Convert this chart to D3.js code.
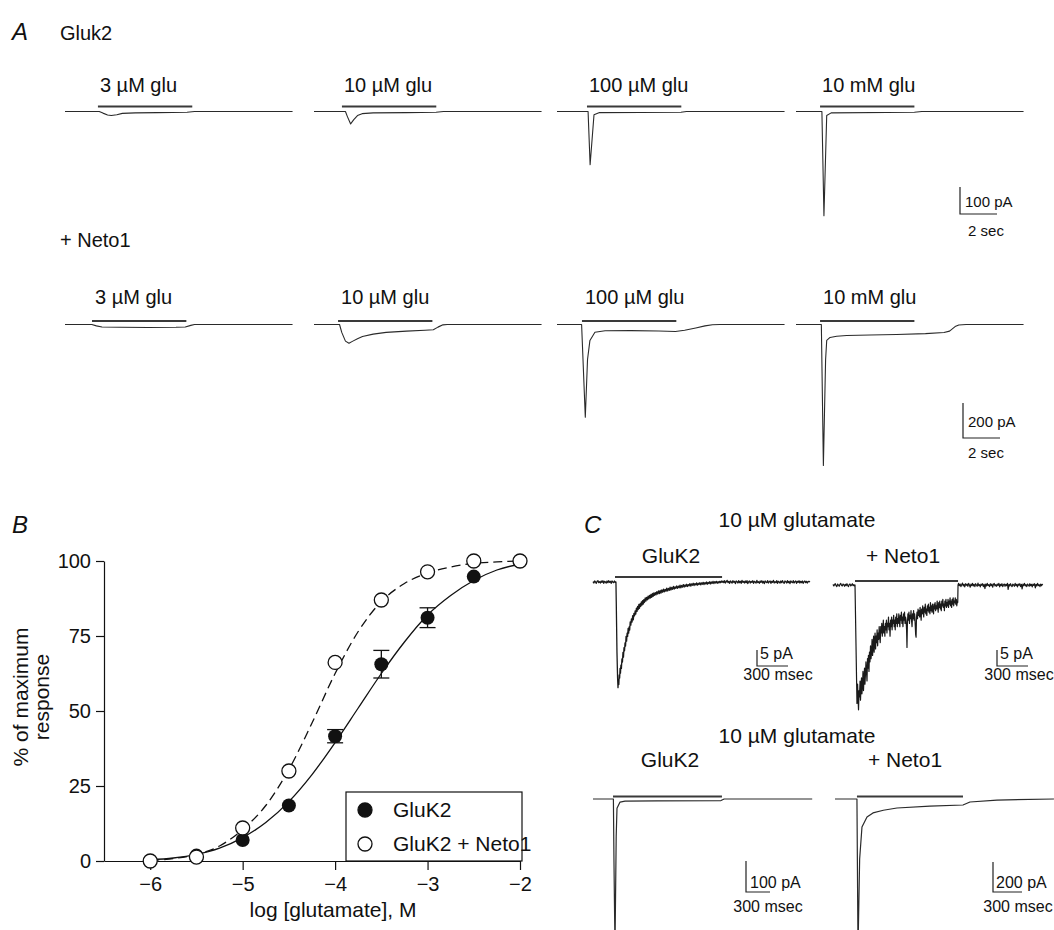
<!DOCTYPE html>
<html>
<head>
<meta charset="utf-8">
<script src="https://cdn.jsdelivr.net/npm/d3@7"></script>
<style>
  body { margin: 0; background: #fff; }
  svg { display: block; }
  text { font-family: "Liberation Sans", Arial, Helvetica, sans-serif; fill: #111; }
</style>
</head>
<body>
<div id="figure"></div>
<script>
// ---- panel A: glutamate concentration series (time in s, current in pA) ----
const concLabels = ["3 \u00b5M glu", "10 \u00b5M glu", "100 \u00b5M glu", "10 mM glu"]
const barStartGluk2 = [1.78, 1.51, 1.62, 1.30]
const barStartNeto1 = [1.46, 1.30, 1.35, 1.30]
const barDuration = 5.1

const gluk2Traces = [
  [[0,0],[1.85,0],[2.05,-6],[2.3,-13],[2.5,-15],[2.8,-12],[3.1,-7],[3.8,-5],[5,-4],[6.6,-3],[7,0],[12.3,0]],
  [[0,0],[1.7,0],[1.8,-18],[1.98,-46],[2.15,-30],[2.35,-15],[2.6,-8],[3.2,-5],[5,-4],[6.6,-3],[7,0],[12.3,0]],
  [[0,0],[1.68,0],[1.79,-197],[2.0,-12],[2.3,-4],[6.7,-3],[7,0],[12.3,0]],
  [[0,0],[1.4,0],[1.51,-386],[1.66,-15],[1.9,-5],[6.4,-3],[6.8,0],[12.3,0]]
]
const neto1Traces = [
  [[0,0],[1.45,0],[1.7,-8],[2.0,-14],[3,-16],[4.5,-17],[6.0,-16],[6.5,-14],[6.8,-5],[7.0,0],[12.3,0]],
  [[0,0],[1.38,0],[1.5,-45],[1.7,-95],[1.89,-107],[2.1,-95],[2.35,-82],[2.62,-69],[3.2,-55],[3.9,-45],[5,-38],[6.0,-33],[6.45,-30],[6.7,-15],[6.97,-2],[7.2,0],[12.3,0]],
  [[0,0],[1.33,0],[1.53,-530],[1.65,-200],[1.78,-91],[2.05,-44],[2.6,-36],[4,-35],[5.5,-37],[6.4,-40],[6.9,-33],[7.5,-20],[8.0,-8],[8.4,-1],[8.8,0],[12.3,0]],
  [[0,0],[1.37,0],[1.48,-805],[1.6,-200],[1.66,-91],[1.84,-74],[2.2,-67],[2.74,-63],[4,-60],[5.44,-57],[7,-52],[8.0,-46],[8.3,-38],[8.6,-12],[8.8,-3],[9.2,0],[12.3,0]]
]

// ---- panel B: concentration-response ----
const logConc = [-6, -5.5, -5, -4.5, -4, -3.5, -3, -2.5, -2]
const gluk2Resp = [0, 1.8, 7, 18.5, 41.6, 65.6, 81.1, 94.8, 100]
const gluk2Sem = [0, 0, 0, 0, 2.2, 4.6, 3.3, 0, 0]
const neto1Resp = [0, 1.3, 11, 30, 66.2, 87, 96.4, 100, 100]
const fitLog = [-6, -5.75, -5.5, -5.25, -5, -4.75, -4.5, -4.25, -4, -3.75, -3.5, -3.25, -3, -2.75, -2.5, -2.25, -2]
const gluk2Fit = [0.4, 1, 2.2, 4.3, 7.8, 12.8, 19.8, 28.8, 39.5, 51, 62.5, 73, 82, 88.5, 93.5, 97, 99]
const neto1Fit = [0.2, 0.8, 2.2, 5, 10.5, 18.5, 30.5, 46, 62.5, 76.5, 86.5, 92.5, 96, 98, 99.2, 99.7, 100]
const xTicks = [-6, -5, -4, -3, -2]
const yTicks = [0, 25, 50, 75, 100]

// ---- panel C: 10 uM glutamate, expanded (time in ms, current in pA) ----
const cTopGluk2 = [[0,0.1],[8,-0.3],[16,0.3],[24,0],[32,-0.4],[40,0.2],[48,0.4],[56,-0.2],[64,0.1],[72,-0.3],[80,0.3],[88,-0.1],
  [96,0.4],[104,-0.4],[112,0.2],[120,0],[128,-0.3],[136,0.3],[144,-0.2],[152,0.4],[160,-0.1],[168,0.2],[176,-0.4],[184,0.3],
  [192,0],[200,-0.2],[208,0.3],[216,-0.1],[222,0],
  [225,-6],[232,-22],[238,-30],[242,-33],[246,-30.5],[250,-32],[254,-29],[258,-30],[262,-27],[266,-28.5],[270,-26],[275,-27],
  [280,-24],[285,-25],[290,-22],[295,-23.5],[300,-20.5],[305,-21.5],[310,-19],[315,-20],[320,-17],[325,-18.5],[330,-16],[335,-17],
  [340,-14.5],[345,-16],[350,-14],[355,-15],[360,-12.5],[366,-13.5],[372,-11.5],[378,-12.5],[384,-10.5],[390,-11.8],[396,-9.8],
  [402,-10.6],[408,-9],[414,-10],[420,-8.2],[426,-9.2],[432,-7.6],[438,-8.6],[444,-7],[450,-8.2],[456,-6.8],[462,-7.6],[468,-6.2],
  [474,-7.2],[480,-5.8],[486,-6.9],[492,-5.5],[498,-6.4],[505,-5],[512,-6],[519,-4.8],[526,-5.6],[533,-4.4],[540,-5.3],[547,-4.2],
  [554,-5],[561,-3.9],[568,-4.8],[575,-3.6],[582,-4.5],[589,-3.4],[596,-4.2],[603,-3.3],[610,-4],[618,-3],[626,-3.8],[634,-2.8],
  [642,-3.6],[650,-2.6],[658,-3.5],[666,-2.5],[674,-3.2],[682,-2.2],[690,-3.1],[698,-2.3],[706,-2.9],[714,-1.9],[722,-2.8],[730,-2],
  [738,-2.6],[746,-1.6],[754,-2.5],[762,-1.7],[770,-2.3],[778,-1.4],[786,-2.2],[794,-1.5],[802,-2],[810,-1.2],[818,-2],[826,-1.3],
  [834,-1.8],[842,-1],[850,-1.8],[858,-1.1],[866,-1.6],[874,-0.8],[882,-1.6],[890,-0.9],[898,-1.4],[906,-0.7],[914,-1.4],[922,-0.8],
  [930,-1.2],[938,-0.5],[946,-1.3],[954,-0.6],[962,-1],[970,-0.4],[978,-1.1],[986,-0.5],[994,-0.9],[1002,-0.3],[1010,-1],[1018,-0.4],
  [1026,-0.8],[1034,-0.2],[1042,-0.9],[1050,-0.3],[1058,-0.7],[1066,-0.1],[1074,-0.8],[1082,-0.2],[1090,-0.6],[1098,0],[1106,-0.7],
  [1114,-0.1],[1122,-0.5],[1130,0.1],[1138,-0.6],[1146,0],[1154,-0.4],[1162,0.2],[1170,-0.5],[1178,0.1],[1186,-0.3],[1194,0.2],
  [1202,-0.4],[1210,0.1],[1218,-0.3],[1226,0.2],[1234,-0.2],[1242,0.3],[1250,-0.1],
  [1258,0.3],[1266,-0.2],[1274,0.4],[1282,-0.3],[1290,0.1],[1298,0.5],[1306,-0.2],[1314,0.2],[1322,-0.4],[1330,0.3],[1338,0],
  [1346,-0.3],[1354,0.4],[1362,-0.1],[1370,0.2],[1378,-0.5],[1386,0.3],[1394,0.1],[1402,-0.3],[1410,0.4],[1418,-0.2],[1426,0.2],
  [1434,-0.4],[1442,0.5],[1450,-0.1],[1458,0.2],[1466,-0.3],[1474,0.3],[1482,-0.2],[1490,0.4],[1498,-0.5],[1506,0.1],[1514,0.3],
  [1522,-0.3],[1530,0.2],[1538,-0.1],[1546,0.4],[1554,-0.4],[1562,0.2],[1570,0],[1578,-0.3],[1586,0.5],[1594,-0.2],[1602,0.1],
  [1610,-0.4],[1618,0.3],[1626,-0.1],[1634,0.4],[1642,-0.3],[1650,0.2],[1658,-0.5],[1666,0.3],[1674,0],[1682,-0.2],[1690,0.4],
  [1698,-0.3],[1706,0.1],[1714,0.3],[1722,-0.4],[1730,0.2],[1738,-0.1],[1746,0.5],[1754,-0.3],[1762,0.1],[1770,-0.2],[1778,0.4],
  [1786,-0.4],[1794,0.2],[1802,0],[1810,-0.3],[1818,0.3],[1826,-0.2],[1834,0.4],[1842,-0.1],[1850,-0.4],[1858,0.3],[1866,0.1],
  [1874,-0.3],[1882,0.4],[1890,-0.2],[1898,0.2],[1906,-0.5],[1914,0.3],[1922,0],[1930,-0.2],[1938,0.4],[1946,-0.3],[1954,0.1],
  [1962,0.3],[1970,-0.4],[1978,0.2],[1986,-0.1],[1994,0.4],[2002,-0.3],[2010,0.2],[2018,-0.2],[2026,0.3],[2034,-0.4],[2042,0.1],
  [2050,0.3],[2058,-0.2],[2066,0.2],[2074,-0.3],[2082,0.1],[2090,0.2],[2100,0]]
const cTopNeto1 = [[0,0.2],[8,-0.3],[15,0.1],[22,0.4],[30,-0.2],[37,-0.5],[45,0.3],[52,0],[60,-0.4],[67,0.2],[75,0.5],[82,-0.1],
  [90,-0.3],[97,0.3],[105,0.1],[112,-0.4],[120,0.2],[127,-0.2],[135,0.4],[142,-0.1],[150,-0.5],[157,0.2],[165,0.3],[172,-0.3],
  [180,0],[187,0.4],[195,-0.2],[202,0.1],[208,-0.3],[213,0],
  [232,-37],[238,-31],[243,-36],[247,-39],[252,-33],[256,-35],[262,-30],[266,-36],[271,-32],[276,-29],[280,-34],[286,-31],[290,-27],
  [295,-33],[300,-29],[305,-26],[309,-31],[314,-28],[319,-24],[324,-27],[329,-30],[334,-23],[339,-26],[343,-22],[348,-27],[353,-21],
  [358,-24],[363,-19],[368,-23],[373,-21],[378,-17],[383,-22],[388,-19],[393,-16],[398,-21],[402,-18],[407,-15],[412,-20],[417,-16],
  [422,-18],[427,-14],[432,-19],[437,-15],[442,-17],[447,-13],[452,-16],[457,-18],[462,-13],[467,-15],[472,-12],[477,-16],[482,-14],
  [487,-11],[492,-15],[497,-13],[502,-16],[507,-12],[512,-14],[517,-11],[522,-15],[527,-12],[532,-13],[537,-10],[542,-14],[547,-12],
  [552,-16],[557,-11],[562,-13],[567,-10],[572,-14],[577,-11],[582,-12],[587,-9.5],[592,-13],[597,-11],[602,-14],[607,-10],[612,-12],
  [617,-9],[622,-13],[627,-10.5],[632,-12],[637,-9],[642,-11],[647,-13],[652,-9.5],[657,-11],[662,-8.5],[667,-12],[672,-10],[677,-13],
  [682,-9],[687,-11],[692,-8.5],[697,-12],[702,-10],[707,-11],[712,-14],[716,-19.5],[720,-12],[725,-9],[730,-11],[735,-8.5],[740,-12],
  [745,-9.5],[750,-10.5],[755,-8],[760,-11],[765,-13],[770,-9],[775,-10.5],[780,-8],[785,-11],[790,-9],[795,-12],[800,-15.5],
  [804,-16.3],[808,-10],[813,-8.5],[818,-10.5],[823,-7.5],[828,-9.5],[833,-8],[838,-10],[843,-7],[848,-9],[853,-11],[858,-7.5],
  [863,-9],[868,-6.5],[873,-8.5],[878,-10],[883,-7],[888,-8.5],[893,-6],[898,-9],[903,-7.5],[908,-9.5],[913,-6.5],[918,-8],[923,-6],
  [928,-8.5],[933,-7],[938,-9],[943,-5.5],[948,-8],[953,-6.5],[958,-8.5],[963,-6],[968,-7.5],[973,-9],[978,-6],[983,-7.5],[988,-5.5],
  [993,-8],[998,-6.5],[1003,-7.5],[1008,-5],[1013,-7],[1018,-8.5],[1023,-5.5],[1028,-7],[1033,-5],[1038,-7.5],[1043,-6],[1048,-8],
  [1053,-5],[1058,-6.5],[1063,-4.5],[1068,-7],[1073,-6],[1078,-8],[1083,-5],[1088,-6.5],[1093,-4.5],[1098,-7],[1103,-5.5],[1108,-6.5],
  [1113,-4.5],[1118,-7],[1123,-5],[1128,-6],[1133,-4],[1138,-6.5],[1143,-5],[1148,-7],[1153,-4.5],[1158,-6],[1163,-4],[1168,-6.5],
  [1173,-5],[1178,-5.5],[1183,-4],[1188,-6],[1193,-4.5],[1198,-6.5],[1203,-5],[1207,-5.5],[1210,0],
  [1215,0.5],[1222,-0.2],[1230,0.3],[1238,-0.5],[1245,0.1],[1253,0.6],[1260,-0.3],[1268,0.2],[1275,-0.6],[1283,0.4],[1290,-0.1],
  [1298,0.3],[1305,-0.4],[1313,0.5],[1320,0],[1328,-0.7],[1335,0.3],[1343,-0.2],[1350,0.5],[1358,-0.3],[1365,0.2],[1373,-0.5],
  [1380,0.4],[1388,0],[1395,-0.4],[1403,0.6],[1410,-0.2],[1418,0.1],[1425,-0.6],[1433,0.3],[1440,-0.1],[1448,0.4],[1455,-0.5],
  [1463,0.2],[1470,-1.1],[1478,0.3],[1485,-0.3],[1493,0.5],[1500,-0.2],[1508,0.1],[1515,-0.5],[1523,0.4],[1530,-0.2],[1538,0.3],
  [1545,-0.7],[1553,0.2],[1560,0.5],[1568,-0.3],[1575,0.1],[1583,-0.4],[1590,0.3],[1598,-0.1],[1605,0.5],[1613,-0.6],[1620,0.2],
  [1628,-0.2],[1635,0.4],[1643,-0.5],[1650,0.1],[1658,0.3],[1665,-0.4],[1673,0.2],[1680,-0.2],[1688,0.5],[1695,-1.4],[1703,0.2],
  [1710,-0.3],[1718,0.4],[1725,-0.1],[1733,-0.5],[1740,0.3],[1748,0],[1755,-0.4],[1763,0.5],[1770,-0.2],[1778,0.2],[1785,-0.6],
  [1793,0.3],[1800,-0.1],[1808,0.4],[1815,-0.5],[1823,0.2],[1830,-1.2],[1838,0.3],[1845,-0.2],[1853,0.5],[1860,-0.3],[1868,0.1],
  [1875,-0.5],[1883,0.3],[1890,0],[1898,-0.4],[1905,0.4],[1913,-0.2],[1920,0.2],[1928,-0.6],[1935,0.3],[1943,-0.1],[1950,0.4],
  [1958,-0.9],[1965,0.2],[1973,-0.3],[1980,0.5],[1988,-0.2],[1995,0.1],[2003,-0.5],[2010,0.3],[2018,-0.2],[2025,0.2],[2030,0]]
const cBotGluk2 = [[0,0],[255,0],[262,-200],[275,-480],[290,-120],[300,-30],[338,-10],[400,-7],[800,-6],[1600,-5],[1640,0],[2740,0]]
const cBotNeto1 = [[0,0],[227,0],[238,-1000],[255,-400],[279,-187],[331,-120],[393,-93],[500,-75],[641,-60],[982,-47],[1324,-40],[1396,-20],[1675,-7],[2265,0]]

const svg = d3.select("#figure").append("svg")
  .attr("width", 1054)
  .attr("height", 930)

function label(x, y, txt, size, anchor = "start", italic = false) {
  const t = svg.append("text").attr("x", x).attr("y", y).attr("text-anchor", anchor).text(txt)
  t.style("font-size", size + "px")
  if (italic) t.style("font-style", "italic")
  return t
}

// draws a current trace; xs/ys are scales relative to the trace origin
function drawTrace(g, data, xs, ys, color = "#2a2a2a", width = 1.1) {
  const line = d3.line().x(d => xs(d[0])).y(d => ys(d[1]))
  g.append("path")
    .datum(data)
    .attr("d", line)
    .attr("fill", "none")
    .attr("stroke", color)
    .attr("stroke-width", width)
    .attr("stroke-linejoin", "round")
}

function drawBar(g, xs, t0, t1, dy) {
  g.append("line")
    .attr("x1", xs(t0)).attr("x2", xs(t1))
    .attr("y1", dy).attr("y2", dy)
    .attr("stroke", "#3a3a3a")
    .attr("stroke-width", 2)
}

function drawScaleBar(x0, y0, vLen, hLen) {
  svg.append("path")
    .attr("d", `M${x0},${y0 - vLen}V${y0}H${x0 + hLen}`)
    .attr("fill", "none")
    .attr("stroke", "#222")
    .attr("stroke-width", 1.2)
}

// ================= Panel A =================
label(12, 40, "A", 24, "start", true)
label(60, 40, "Gluk2", 20)
label(60, 247, "+ Neto1", 20)

const traceStarts = [65, 314, 557, 796]
const pxPerSec = 18.5
const tA = d3.scaleLinear().domain([0, 12.3]).range([0, 12.3 * pxPerSec])
const yTopA = d3.scaleLinear().domain([0, -100]).range([0, 27])
const yBotA = d3.scaleLinear().domain([0, -200]).range([0, 35])

gluk2Traces.forEach((tr, i) => {
  const g = svg.append("g").attr("transform", `translate(${traceStarts[i]},111.5)`)
  drawBar(g, tA, barStartGluk2[i], barStartGluk2[i] + barDuration, -5)
  drawTrace(g, tr, tA, yTopA)
  label(traceStarts[i] + tA(barStartGluk2[i]) + 2, 92, concLabels[i], 20)
})

neto1Traces.forEach((tr, i) => {
  const g = svg.append("g").attr("transform", `translate(${traceStarts[i]},324.5)`)
  drawBar(g, tA, barStartNeto1[i], barStartNeto1[i] + barDuration, -3.5)
  drawTrace(g, tr, tA, yBotA)
  label(traceStarts[i] + tA(barStartNeto1[i]) + 3, 304, concLabels[i], 20)
})

drawScaleBar(960, 214, yTopA(-100), tA(2))
label(965, 207, "100 pA", 15)
label(986, 236, "2 sec", 15, "middle")

drawScaleBar(963, 438, yBotA(-200), tA(2))
label(968, 427, "200 pA", 15)
label(986, 458, "2 sec", 15, "middle")

// ================= Panel B =================
label(12, 533, "B", 24, "start", true)

const x = d3.scaleLinear().domain([-6.5, -2]).range([104, 520])
const y = d3.scaleLinear().domain([0, 100]).range([861, 561])

const xAxis = svg.append("g")
  .attr("transform", "translate(0,861)")
  .call(d3.axisBottom(x).tickValues(xTicks).tickFormat(d3.format("d")).tickSize(9).tickSizeOuter(0).tickPadding(7))
const yAxis = svg.append("g")
  .attr("transform", "translate(104,0)")
  .call(d3.axisLeft(y).tickValues(yTicks).tickFormat(d3.format("d")).tickSize(8).tickSizeOuter(0).tickPadding(5))

;[xAxis, yAxis].forEach(a => {
  a.selectAll("path, line").attr("stroke", "#111").attr("stroke-width", 1.2)
  a.selectAll("text")
    .style("font-size", "20px")
    .style("font-family", '"Liberation Sans", Arial, sans-serif')
    .attr("fill", "#111")
})

label(333, 917, "log [glutamate], M", 21, "middle")
svg.append("text")
  .attr("transform", "translate(28,697) rotate(-90)")
  .attr("text-anchor", "middle")
  .style("font-size", "21px")
  .text("% of maximum")
svg.append("text")
  .attr("transform", "translate(49,697) rotate(-90)")
  .attr("text-anchor", "middle")
  .style("font-size", "21px")
  .text("response")

const fitLine = vals => d3.line()
  .x((d, i) => x(fitLog[i]))
  .y(d => y(d))
  .curve(d3.curveMonotoneX)(vals)

svg.append("path")
  .attr("d", fitLine(gluk2Fit))
  .attr("fill", "none")
  .attr("stroke", "#111")
  .attr("stroke-width", 1.3)

svg.append("path")
  .attr("d", fitLine(neto1Fit))
  .attr("fill", "none")
  .attr("stroke", "#111")
  .attr("stroke-width", 1.3)
  .attr("stroke-dasharray", "9,5")

// error bars (GluK2)
const errData = logConc.map((c, i) => ({ c, v: gluk2Resp[i], e: gluk2Sem[i] })).filter(d => d.e > 0)
const eb = svg.append("g").attr("stroke", "#111").attr("stroke-width", 1.3)
errData.forEach(d => {
  eb.append("line").attr("x1", x(d.c)).attr("x2", x(d.c)).attr("y1", y(d.v - d.e)).attr("y2", y(d.v + d.e))
  ;[d.v - d.e, d.v + d.e].forEach(v => {
    eb.append("line").attr("x1", x(d.c) - 8).attr("x2", x(d.c) + 8).attr("y1", y(v)).attr("y2", y(v))
  })
})

svg.append("g")
  .selectAll("circle")
  .data(logConc.map((c, i) => [c, gluk2Resp[i]]))
  .join("circle")
  .attr("cx", d => x(d[0]))
  .attr("cy", d => y(d[1]))
  .attr("r", 7)
  .attr("fill", "#111")

svg.append("g")
  .selectAll("circle")
  .data(logConc.map((c, i) => [c, neto1Resp[i]]))
  .join("circle")
  .attr("cx", d => x(d[0]))
  .attr("cy", d => y(d[1]))
  .attr("r", 7)
  .attr("fill", "#fff")
  .attr("stroke", "#111")
  .attr("stroke-width", 1.3)

// legend
const legendItems = ["GluK2", "GluK2 + Neto1"]
svg.append("rect")
  .attr("x", 346).attr("y", 792)
  .attr("width", 176).attr("height", 69)
  .attr("fill", "#fff")
  .attr("stroke", "#111")
  .attr("stroke-width", 1.2)
legendItems.forEach((name, i) => {
  svg.append("circle")
    .attr("cx", 365).attr("cy", 810 + i * 34)
    .attr("r", 7)
    .attr("fill", i === 0 ? "#111" : "#fff")
    .attr("stroke", "#111")
    .attr("stroke-width", 1.3)
  label(393, 817 + i * 34, name, 21)
})

// ================= Panel C =================
label(584, 533, "C", 24, "start", true)
label(797, 527, "10 \u00b5M glutamate", 21, "middle")
label(671, 563, "GluK2", 21, "middle")
label(903, 563, "+ Neto1", 21, "middle")
label(797, 743, "10 \u00b5M glutamate", 21, "middle")
label(670, 767, "GluK2", 21, "middle")
label(905, 767, "+ Neto1", 21, "middle")

// top row: 300 ms = 31 px, 5 pA = 16 px
const tCtop = d3.scaleLinear().domain([0, 300]).range([0, 31])
const yCtop = d3.scaleLinear().domain([0, -5]).range([0, 16])

const gC1 = svg.append("g").attr("transform", "translate(593,582)")
drawBar(gC1, tCtop, 213, 1249, -5)
drawTrace(gC1, cTopGluk2, tCtop, yCtop, "#1a1a1a", 1.3)

const gC2 = svg.append("g").attr("transform", "translate(833,585)")
drawBar(gC2, tCtop, 213, 1210, -4)
drawTrace(gC2, cTopNeto1, tCtop, yCtop, "#1a1a1a", 1.2)

drawScaleBar(757, 666, yCtop(-5), tCtop(300))
label(760, 659, "5 pA", 16)
label(778, 680, "300 msec", 16, "middle")
drawScaleBar(997, 666, yCtop(-5), tCtop(300))
label(1000, 659, "5 pA", 16)
label(1019, 680, "300 msec", 16, "middle")

// bottom row
const tCbl = d3.scaleLinear().domain([0, 300]).range([0, 24])
const yCbl = d3.scaleLinear().domain([0, -100]).range([0, 31])
const tCbr = d3.scaleLinear().domain([0, 300]).range([0, 29])
const yCbr = d3.scaleLinear().domain([0, -200]).range([0, 30])

const gC3 = svg.append("g").attr("transform", "translate(593,799)")
drawBar(gC3, tCbl, 250, 1612, -2.5)
drawTrace(gC3, cBotGluk2, tCbl, yCbl, "#2a2a2a", 1.2)

const gC4 = svg.append("g").attr("transform", "translate(835,799)")
drawBar(gC4, tCbr, 227, 1324, -2.5)
drawTrace(gC4, cBotNeto1, tCbr, yCbr, "#2a2a2a", 1.2)

drawScaleBar(746, 892, yCbl(-100), tCbl(300))
label(750, 888, "100 pA", 16)
label(768, 912, "300 msec", 16, "middle")
drawScaleBar(993, 892, yCbr(-200), tCbr(300))
label(996, 888, "200 pA", 16)
label(1018, 912, "300 msec", 16, "middle")
</script>
</body>
</html>
